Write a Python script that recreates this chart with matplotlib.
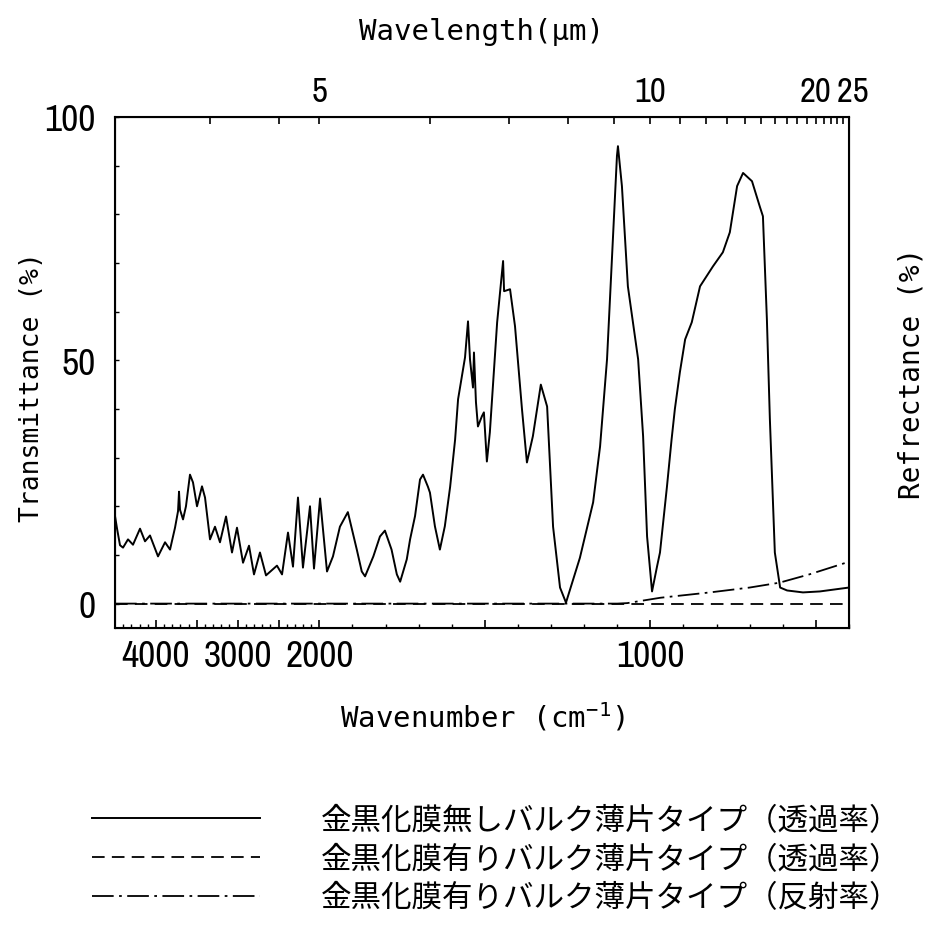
import matplotlib.pyplot as plt
import numpy as np
from matplotlib import font_manager

plt.rcParams['font.family'] = ['DejaVu Sans Mono']
plt.rcParams['mathtext.default'] = 'regular'

# Transmittance of the bulk flake without gold-black film (solid line)
wn_bare = [4500, 4476, 4439, 4402, 4341, 4280, 4194, 4133, 4072, 3974,
           3888, 3827, 3766, 3729, 3717, 3705, 3668, 3632, 3583, 3546,
           3497, 3436, 3399, 3338, 3277, 3216, 3142, 3069, 3008, 2934,
           2861, 2800, 2727, 2653, 2519, 2457, 2384, 2323, 2262, 2201,
           2115, 2066, 1998, 1977, 1959, 1938, 1914, 1887, 1872, 1862,
           1837, 1817, 1802, 1782, 1766, 1756, 1736, 1726, 1711, 1696,
           1687, 1672, 1666, 1651, 1636, 1621, 1605, 1590, 1581, 1560,
           1551, 1545, 1536, 1533, 1527, 1521, 1509, 1503, 1494, 1485,
           1463, 1445, 1442, 1424, 1409, 1388, 1373, 1355, 1331, 1312,
           1294, 1273, 1255, 1213, 1173, 1152, 1131, 1113, 1101, 1098,
           1086, 1068, 1037, 1022, 1010, 995, 980, 971, 950, 936,
           926, 911, 895, 875, 850, 811, 781, 760, 738, 720,
           693, 669, 660, 648, 639, 624, 608, 587, 539, 488,
           400]
tr_bare = [18.0, 15.5, 12.0, 11.5, 13.2, 12.1, 15.4, 12.8, 14.0, 9.7,
           12.6, 11.1, 15.6, 19.0, 23.0, 19.3, 17.3, 20.0, 26.5, 24.9,
           20.0, 24.1, 21.8, 13.2, 15.8, 12.6, 17.9, 10.5, 15.6, 8.4,
           11.9, 6.0, 10.5, 5.8, 7.8, 6.0, 14.6, 7.6, 21.8, 7.4,
           20.0, 7.2, 21.6, 6.6, 9.7, 15.8, 18.8, 11.1, 6.6, 5.6,
           9.7, 13.8, 15.0, 11.1, 6.0, 4.5, 9.1, 13.2, 18.0, 25.5,
           26.5, 24.0, 22.8, 15.9, 11.1, 15.9, 24.0, 33.7, 42.0, 50.6,
           58.0, 50.2, 44.4, 51.6, 41.4, 36.4, 38.5, 39.3, 29.2, 35.2,
           57.8, 70.4, 64.2, 64.6, 57.0, 40.0, 29.0, 34.4, 45.0, 40.5,
           15.8, 3.3, 0.2, 9.4, 20.8, 32.3, 50.2, 75.5, 92.0, 94.0,
           85.8, 65.2, 50.2, 34.4, 13.8, 2.5, 7.6, 10.5, 24.0, 33.7,
           40.0, 47.5, 54.3, 57.8, 65.2, 69.3, 72.2, 76.3, 85.8, 88.5,
           86.8, 81.5, 79.6, 58.4, 37.9, 10.5, 3.3, 2.7, 2.3, 2.5,
           3.3]

# Bulk flake with gold-black film: transmittance (dashed)
wn_film_tr = [4500, 3000, 2000, 1000, 400]
tr_film = [0.0, 0.0, 0.0, 0.0, 0.0]

# Bulk flake with gold-black film: reflectance (dash-dot)
wn_film_rf = [4500, 3000, 2000, 1100, 1070, 970, 820, 700, 610, 520, 400]
rf_film = [0.0, 0.0, 0.0, 0.0, 0.1, 1.2, 2.3, 3.3, 4.3, 6.0, 8.6]

x_major = [4500, 4000, 3500, 3000, 2500, 2000, 1500, 1000, 500]
x_labelled = {4000: '4000', 3000: '3000', 2000: '2000', 1000: '1000'}
lam_ticks = list(range(3, 26))
lam_labelled = {5: '5', 10: '10', 20: '20', 25: ' 25'}
y_major = [0, 50, 100]

legend_labels = ['金黒化膜無しバルク薄片タイプ（透過率）',
                 '金黒化膜有りバルク薄片タイプ（透過率）',
                 '金黒化膜有りバルク薄片タイプ（反射率）']


# spectrometer chart: 4x compressed scale above 2000 cm-1
def fwd(v):
    v = np.asarray(v, dtype=float)
    return np.where(v > 2000, 2000 + (v - 2000) * 0.247, v)


def inv(u):
    u = np.asarray(u, dtype=float)
    return np.where(u > 2000, 2000 + (u - 2000) / 0.247, u)


# narrow plotter-like digits if a narrow face is installed
narrow = None
for f in font_manager.fontManager.ttflist:
    if 'Narrow' in f.name or 'Condensed' in f.name:
        narrow = {'fontfamily': f.name}
        break
    if f.stretch in ('condensed', 'semi-condensed') and f.style == 'normal':
        narrow = {'fontfamily': f.name, 'fontstretch': f.stretch}
if narrow is None:
    narrow = {'fontfamily': 'DejaVu Sans'}
    num_size = 23
else:
    num_size = 27

fig = plt.figure(figsize=(9.35, 9.29), dpi=100)
ax = fig.add_axes([0.123, 0.323, 0.785, 0.550])

l1, = ax.plot(wn_bare, tr_bare, color='black', lw=1.4)
l2, = ax.plot(wn_film_tr, tr_film, color='black', lw=1.3, ls=(0, (7, 4)))
l3, = ax.plot(wn_film_rf, rf_film, color='black', lw=1.3,
              ls=(0, (12, 3, 1.5, 3)))

ax.set_xscale('function', functions=(fwd, inv))
ax.set_xlim(4500, 400)
ax.set_ylim(-5, 100)

ax.set_xticks(x_major)
ax.set_xticklabels([x_labelled.get(v, '') for v in x_major])
ax.set_xticks(np.arange(400, 4600, 100), minor=True)
ax.set_yticks(y_major)
ax.set_yticks(np.arange(0, 101, 10), minor=True)

for lab in ax.get_xticklabels() + ax.get_yticklabels():
    lab.set(fontsize=num_size, **narrow)

ax.tick_params(axis='x', which='major', direction='in', length=6, width=1.2,
               pad=8, top=False)
ax.tick_params(axis='x', which='minor', direction='in', length=3, width=1,
               top=False)
ax.tick_params(axis='y', which='both', direction='in', length=3, width=1,
               pad=14, right=False)
for s in ax.spines.values():
    s.set_linewidth(1.5)

ax.set_xlabel('Wavenumber (cm$^{-1}$)', fontsize=21, labelpad=20)
ax.set_ylabel('Transmittance (%)', fontsize=19)
ax.yaxis.set_label_coords(-0.095, 0.474)
ax.text(1.085, 0.5, 'Refrectance (%)', transform=ax.transAxes, rotation=90,
        ha='center', va='center', fontsize=20)

# wavelength axis on top
top = ax.twiny()
top.set_xscale('function', functions=(fwd, inv))
top.set_xlim(4500, 400)
top.set_xticks([1e4 / lam for lam in lam_ticks])
top.set_xticklabels([lam_labelled.get(lam, '') for lam in lam_ticks])
for lab in top.get_xticklabels():
    lab.set(fontsize=num_size - 2, **narrow)
top.tick_params(axis='x', direction='in', length=5, width=1.2, pad=7)
top.xaxis.set_minor_locator(plt.NullLocator())
top.set_xlabel('Wavelength(µm)', fontsize=21, labelpad=26)

fig.legend([l1, l2, l3], legend_labels, loc='upper left',
           bbox_to_anchor=(92 / 935, 1 - 806 / 929), frameon=False,
           prop={'family': ['Noto Sans CJK JP'], 'size': 22},
           handlelength=5.5, handletextpad=2.0, labelspacing=0.25,
           borderpad=0, borderaxespad=0)

fig.savefig('out.png', dpi=100, facecolor='white')
